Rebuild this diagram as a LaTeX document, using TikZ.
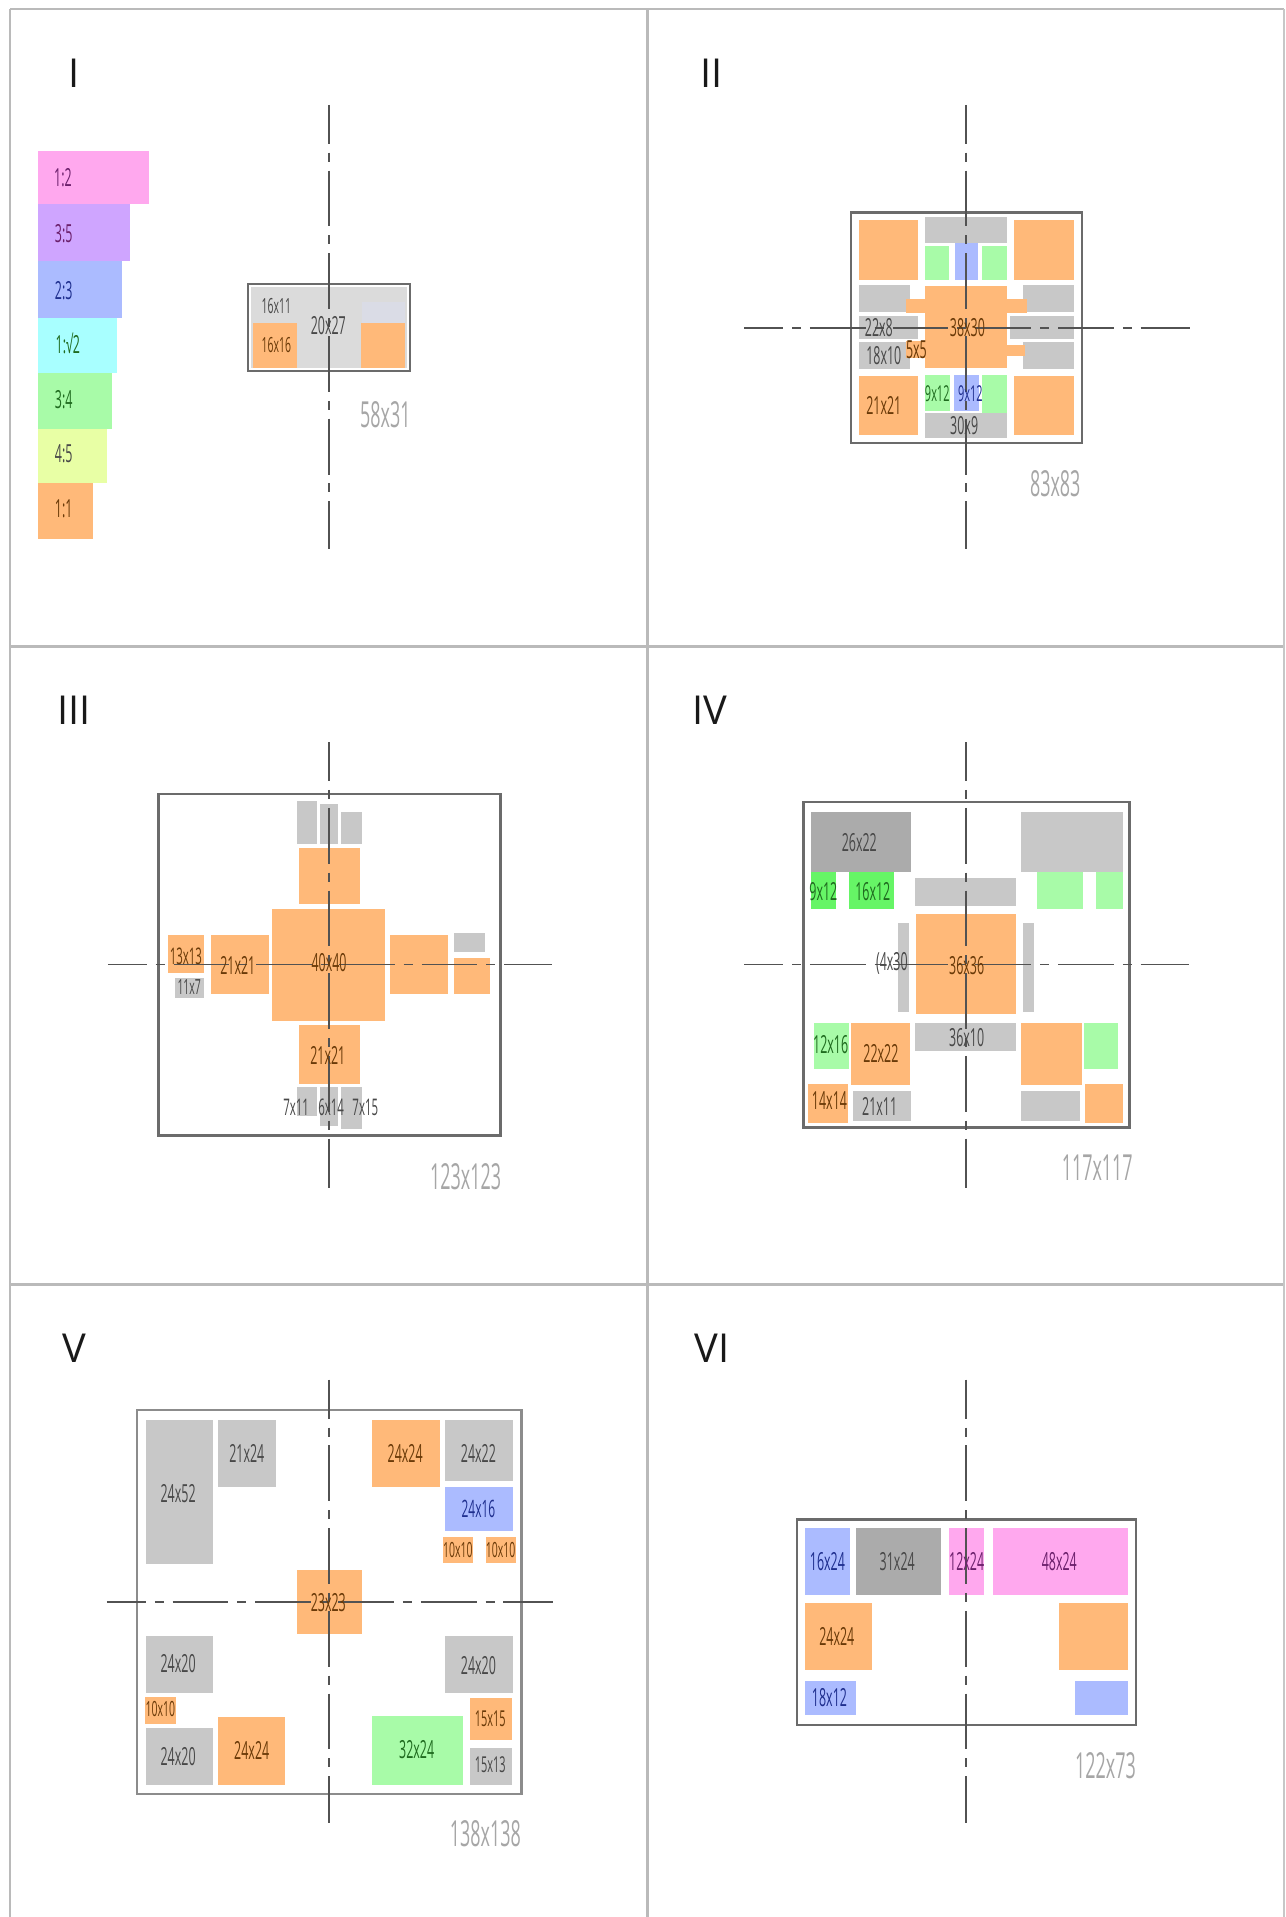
\documentclass[tikz,border=0pt]{standalone}
\usepackage{fontspec}
\setmainfont{Open Sans}
\newfontfamily\labf[FakeStretch=0.5]{Open Sans}
\definecolor{co}{HTML}{FFB979}
\definecolor{cg}{HTML}{C8C8C8}
\definecolor{cd}{HTML}{ABABAB}
\definecolor{cn}{HTML}{A8FBA8}
\definecolor{cb}{HTML}{ABBBFF}
\definecolor{cp}{HTML}{FFA8EE}
\definecolor{cv}{HTML}{CFA5FF}
\definecolor{cc}{HTML}{A8FFFF}
\definecolor{cy}{HTML}{E8FFA5}
\definecolor{cf}{HTML}{66F566}
\definecolor{tg}{HTML}{484848}
\definecolor{to}{HTML}{6A3A08}
\definecolor{tn}{HTML}{1F6B1F}
\definecolor{tb}{HTML}{1F2F8F}
\definecolor{tp}{HTML}{6B1F6B}
\newcounter{lbn}
\newcommand{\bx}[5]{\fill[#5] (#1,#2) rectangle (#3,#4);}
\newcommand{\lb}[4][25]{\stepcounter{lbn}\node[labn,text=#4] (lb\thelbn) at (#2) {\fontsize{#1}{#1}\selectfont #3};}
\tikzset{
  labn/.style={inner sep=0pt,font=\labf},
  dimn/.style={inner sep=0pt,font=\labf\fontsize{36}{36}\selectfont,text=black!35},
  titl/.style={inner sep=0pt,font=\fontsize{40}{40}\selectfont,text=black!90},
  axisl/.style={draw=black!68,line width=1.5pt,dash pattern=on 56pt off 9pt on 9pt off 9pt,dash phase=17pt},
  frm/.style={draw=black!58,line width=2.4pt},
  grd/.style={draw=black!27,line width=3pt},
  grl/.style={draw=black!22,line width=1.6pt},
}
\begin{document}
\begin{tikzpicture}[x=1bp,y=-1bp]
\useasboundingbox[fill=white] (0,0) rectangle (1285,1917);
% panel grid
\coordinate (gtl) at (10,9); \coordinate (gtr) at (1284,9);
\coordinate (gbl) at (10,1917); \coordinate (gbr) at (1284,1917);
\coordinate (gmt) at (647,9); \coordinate (gmb) at (647,1917);
\coordinate (gal) at (10,646); \coordinate (gar) at (1284,646);
\coordinate (gcl) at (10,1284); \coordinate (gcr) at (1284,1284);
\draw[grd] (gtl) -- (gtr);
\draw[grd] (gtl) -- (gbl);
\draw[grd] (gmt) -- (gmb);
\draw[grd] (gal) -- (gar);
\draw[grd] (gcl) -- (gcr);
\draw[grl] (gtr) -- (gbr);
% ---------- I
\begin{scope}[shift={(0,0)},x=.41135bp,y=-.41135bp]
\bx{92}{366}{362}{497}{cp}\bx{92}{497}{316}{634}{cv}\bx{92}{634}{297}{772}{cb}
\bx{92}{772}{284}{906}{cc}\bx{92}{906}{272}{1044}{cn}\bx{92}{1044}{260}{1175}{cy}\bx{92}{1175}{227}{1310}{co}
\lb{153,432}{1:2}{tp}\lb{155,568}{3:5}{tp}\lb{155,706}{2:3}{tb}\lb{165,836}{1:√2}{tn}
\lb{155,972}{3:4}{tn}\lb{155,1104}{4:5}{tg}\lb{155,1236}{1:1}{to}
\bx{610}{697}{990}{895}{black!14}
\bx{880}{735}{985}{785}{cb!25!cg!60}
\bx{615}{785}{722}{895}{co}\bx{877}{785}{985}{895}{co}
\draw[frm] (603,690) rectangle (997,902);
\coordinate (a1t) at (800,255);\coordinate (a1b) at (800,1335);
\draw[axisl] (a1t) -- (a1b);
\lb[21]{672,745}{16x11}{tg}\lb[21]{672,838}{16x16}{to}\lb{798,792}{20x27}{tg}
\node[dimn] (d1) at (937,1008) {58x31};
\node[titl] (t1) at (180,179) {I};
\end{scope}
% ---------- II
\begin{scope}[shift={(645,0)},x=.40816bp,y=-.41135bp]
\bx{524}{692}{650}{758}{cg}\bx{524}{768}{670}{825}{cg}\bx{524}{832}{650}{898}{cg}
\bx{925}{692}{1052}{758}{cg}\bx{895}{768}{1052}{825}{cg}\bx{925}{832}{1052}{898}{cg}
\bx{524}{534}{668}{680}{co}\bx{905}{534}{1052}{680}{co}\bx{524}{915}{668}{1057}{co}\bx{905}{915}{1052}{1057}{co}
\bx{686}{528}{888}{590}{cg}\bx{686}{1005}{888}{1065}{cg}
\bx{686}{597}{745}{680}{cn}\bx{825}{597}{888}{680}{cn}\bx{760}{590}{815}{680}{cb}
\bx{686}{912}{748}{1000}{cn}\bx{825}{912}{888}{1003}{cn}\bx{758}{912}{818}{1000}{cb}
\bx{686}{695}{888}{895}{co}
\bx{640}{728}{686}{760}{co}\bx{888}{728}{935}{760}{co}\bx{640}{830}{690}{870}{co}\bx{888}{838}{930}{865}{co}
\draw[frm] (505,517) rectangle (1070,1077);
\coordinate (a2t) at (787,255);\coordinate (a2b) at (787,1335);
\coordinate (a2l) at (243,797);\coordinate (a2r) at (1335,797);
\draw[axisl] (a2t) -- (a2b);
\draw[axisl] (a2l) -- (a2r);
\lb{573,797}{22x8}{tg}\lb{585,865}{18x10}{tg}\lb{665,850}{5x5}{to}\lb{790,797}{38x30}{to}
\lb{585,985}{21x21}{to}\lb[22]{716,957}{9x12}{tn}\lb[22]{797,957}{9x12}{tb}\lb{782,1035}{30x9}{tg}
\node[dimn] (d2) at (1005,1177) {83x83};
\node[titl] (t2) at (163,179) {II};
\end{scope}
% ---------- III
\begin{scope}[shift={(0,645)},x=.41135bp,y=-.40816bp]
\bx{722}{382}{770}{487}{cg}\bx{778}{390}{822}{487}{cg}\bx{830}{408}{880}{487}{cg}
\bx{727}{497}{875}{635}{co}\bx{662}{648}{936}{920}{co}
\bx{512}{710}{655}{855}{co}\bx{408}{710}{497}{803}{co}\bx{425}{815}{497}{865}{cg}
\bx{948}{710}{1090}{855}{co}\bx{1103}{767}{1192}{855}{co}\bx{1103}{705}{1180}{752}{cg}
\bx{727}{932}{875}{1075}{co}
\bx{722}{1082}{770}{1155}{cg}\bx{778}{1082}{822}{1178}{cg}\bx{830}{1082}{880}{1185}{cg}
\draw[frm] (385,365) rectangle (1217,1202);
\coordinate (a3t) at (800,238);\coordinate (a3b) at (800,1330);
\coordinate (a3l) at (262,783);\coordinate (a3r) at (1342,783);
\draw[axisl] (a3t) -- (a3b);
\draw[axisl] (a3l) -- (a3r);
\lb[23]{452,762}{13x13}{to}\lb[21]{460,838}{11x7}{tg}\lb{578,785}{21x21}{to}\lb{800,778}{40x40}{to}
\lb{797,1005}{21x21}{to}\lb[23]{720,1132}{7x11}{tg}\lb[23]{805,1132}{6x14}{tg}\lb[23]{888,1132}{7x15}{tg}
\node[dimn] (d3) at (1132,1303) {123x123};
\node[titl] (t3) at (180,160) {III};
\end{scope}
% ---------- IV
\begin{scope}[shift={(645,645)},x=.40816bp,y=-.40816bp]
\bx{407}{408}{652}{557}{cd}\bx{922}{408}{1170}{557}{cg}
\bx{407}{557}{468}{647}{cf}\bx{500}{557}{610}{647}{cf}\bx{960}{557}{1073}{647}{cn}\bx{1105}{557}{1170}{647}{cn}
\bx{662}{570}{910}{640}{cg}\bx{664}{660}{910}{905}{co}\bx{620}{682}{648}{898}{cg}\bx{925}{682}{953}{898}{cg}
\bx{662}{927}{908}{995}{cg}
\bx{414}{927}{500}{1040}{cn}\bx{505}{927}{650}{1077}{co}\bx{400}{1075}{497}{1170}{co}\bx{510}{1092}{652}{1165}{cg}
\bx{922}{927}{1070}{1077}{co}\bx{1075}{927}{1160}{1040}{cn}\bx{922}{1092}{1065}{1165}{cg}\bx{1078}{1075}{1170}{1170}{co}
\draw[frm] (388,384) rectangle (1187,1182);
\coordinate (a4t) at (787,238);\coordinate (a4b) at (787,1330);
\coordinate (a4l) at (243,783);\coordinate (a4r) at (1332,783);
\draw[axisl] (a4t) -- (a4b);
\draw[axisl] (a4l) -- (a4r);
\lb{525,483}{26x22}{tg}\lb{437,603}{9x12}{tn}\lb{558,603}{16x12}{tn}\lb{605,780}{(4x30}{tg}
\lb{788,785}{36x36}{to}\lb{788,963}{36x10}{tg}\lb{455,980}{12x16}{tn}\lb{578,1000}{22x22}{to}
\lb{452,1117}{14x14}{to}\lb{575,1130}{21x11}{tg}
\node[dimn] (d4) at (1108,1280) {117x117};
\node[titl] (t4) at (158,160) {IV};
\end{scope}
% ---------- V
\begin{scope}[shift={(0,1285)},x=.41135bp,y=-.40306bp]
\bx{355}{335}{518}{692}{cg}\bx{530}{335}{672}{500}{cg}\bx{905}{335}{1070}{500}{co}\bx{1083}{335}{1246}{487}{cg}
\bx{1083}{500}{1246}{610}{cb}\bx{1078}{625}{1150}{690}{co}\bx{1182}{625}{1255}{690}{co}
\bx{722}{708}{880}{865}{co}\bx{355}{872}{518}{1012}{cg}\bx{353}{1022}{427}{1088}{co}
\bx{355}{1100}{518}{1240}{cg}\bx{530}{1072}{693}{1240}{co}\bx{905}{1070}{1125}{1240}{cn}
\bx{1083}{872}{1246}{1012}{cg}\bx{1143}{1025}{1245}{1130}{co}\bx{1143}{1148}{1245}{1240}{cg}
\draw[frm,draw=black!45] (333,310) rectangle (1268,1263);
\coordinate (a5t) at (800,235);\coordinate (a5b) at (800,1335);
\coordinate (a5l) at (260,787);\coordinate (a5r) at (1345,787);
\draw[axisl] (a5t) -- (a5b);
\draw[axisl] (a5l) -- (a5r);
\lb{433,518}{24x52}{tg}\lb{600,418}{21x24}{tg}\lb{985,418}{24x24}{to}\lb{1163,418}{24x22}{tg}
\lb[24]{1163,555}{24x16}{tb}\lb[21]{1113,657}{10x10}{to}\lb[21]{1217,657}{10x10}{to}\lb{798,788}{23x23}{to}
\lb{433,938}{24x20}{tg}\lb[21]{390,1053}{10x10}{to}\lb{433,1170}{24x20}{tg}\lb{612,1155}{24x24}{to}
\lb{1013,1152}{32x24}{tn}\lb{1163,943}{24x20}{tg}\lb[22]{1192,1075}{15x15}{to}\lb[22]{1192,1190}{15x13}{tg}
\node[dimn] (d5) at (1180,1362) {138x138};
\node[titl] (t5) at (180,157) {V};
\end{scope}
% ---------- VI
\begin{scope}[shift={(645,1285)},x=.40816bp,y=-.40306bp]
\bx{392}{603}{502}{770}{cb}\bx{517}{603}{725}{770}{cd}\bx{745}{603}{830}{770}{cp}\bx{852}{603}{1183}{770}{cp}
\bx{392}{790}{557}{955}{co}\bx{1015}{790}{1183}{955}{co}\bx{392}{982}{517}{1067}{cb}\bx{1053}{982}{1183}{1067}{cb}
\draw[frm] (373,582) rectangle (1203,1092);
\coordinate (a6t) at (787,235);\coordinate (a6b) at (787,1335);
\draw[axisl] (a6t) -- (a6b);
\lb{447,687}{16x24}{tb}\lb{618,687}{31x24}{tg}\lb{788,687}{12x24}{tp}\lb{1015,687}{48x24}{tp}
\lb{470,873}{24x24}{to}\lb{452,1023}{18x12}{tb}
\node[dimn] (d6) at (1128,1193) {122x73};
\node[titl] (t6) at (165,157) {VI};
\end{scope}
\end{tikzpicture}
\end{document}
